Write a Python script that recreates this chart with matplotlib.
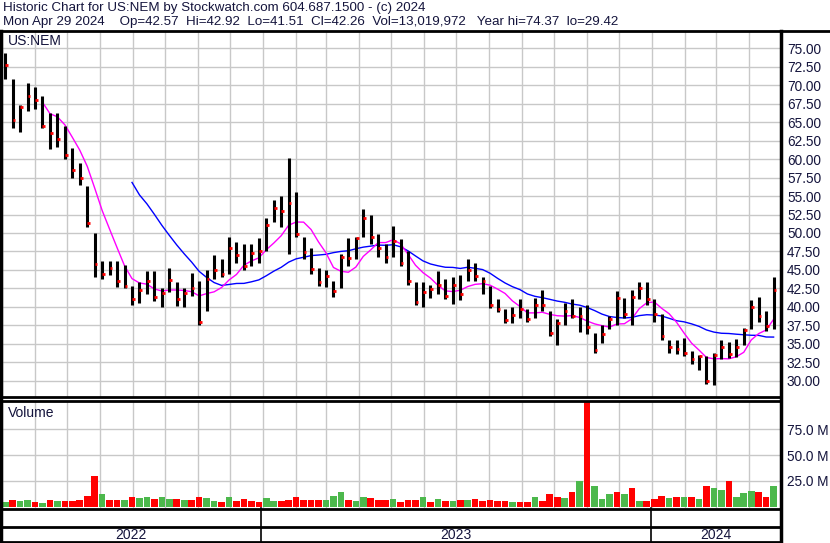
import matplotlib.pyplot as plt
import matplotlib.dates as mdates
import numpy as np
import pandas as pd
from matplotlib.lines import Line2D

plt.rcParams['font.family'] = ['Liberation Sans', 'DejaVu Sans']

W, H = 830, 543
TXT = '#14143c'
GRID = '#c8c8c8'

# weekly bars (week starting Mon May 2 2022 ... Apr 22 2024)
week_high = [74.4, 70.8, 67.3, 70.3, 69.8, 68.5, 66.2, 66.2, 64.5, 61.5,
             59.5, 56.3, 50.0, 46.2, 46.2, 46.2, 45.6, 42.8, 43.3, 44.9,
             44.9, 42.5, 45.3, 43.3, 42.5, 44.6, 43.5, 45.0, 47.0, 46.5,
             49.4, 48.8, 48.5, 48.5, 49.3, 52.0, 54.5, 55.0, 60.1, 55.5,
             49.5, 48.0, 45.3, 45.0, 43.5, 47.2, 49.3, 49.5, 53.2, 52.5,
             49.8, 48.5, 51.0, 49.2, 47.5, 43.3, 43.3, 43.0, 44.8, 43.8,
             44.0, 44.3, 46.5, 46.0, 44.0, 42.8, 41.0, 39.7, 40.0, 41.0,
             39.7, 41.2, 42.3, 39.5, 38.3, 40.5, 41.0, 40.0, 40.2, 36.5,
             37.5, 38.8, 42.2, 41.2, 42.3, 43.3, 43.3, 41.0, 39.0, 35.5,
             35.5, 35.8, 34.0, 33.5, 33.3, 33.8, 35.5, 35.3, 35.6, 37.2,
             40.9, 41.4, 39.5, 44.0]
week_low = [70.8, 64.2, 63.6, 66.5, 66.8, 64.2, 61.3, 61.7, 60.0, 57.5,
            56.5, 50.8, 44.0, 43.8, 44.3, 42.7, 42.5, 40.3, 40.5, 41.8,
            40.8, 40.0, 42.0, 40.1, 40.0, 41.5, 37.5, 39.5, 43.8, 44.0,
            44.5, 46.0, 45.0, 45.5, 46.0, 47.5, 51.5, 50.8, 47.2, 49.5,
            46.5, 44.5, 42.8, 42.7, 41.3, 42.5, 45.5, 46.5, 49.5, 48.5,
            46.8, 46.0, 46.8, 45.5, 42.9, 40.3, 40.0, 41.2, 41.8, 41.0,
            40.4, 40.9, 43.5, 43.5, 41.8, 39.8, 39.3, 37.8, 37.8, 38.5,
            37.9, 38.5, 39.5, 36.0, 34.8, 37.6, 38.5, 36.6, 36.3, 33.8,
            35.1, 37.0, 37.5, 38.5, 37.5, 41.0, 40.3, 38.0, 35.5, 33.8,
            33.6, 33.4, 32.2, 31.5, 29.6, 29.4, 33.0, 33.1, 33.2, 34.8,
            37.0, 38.0, 36.8, 37.0]
week_close = [72.7, 65.3, 67.0, 68.6, 68.0, 64.5, 63.5, 62.7, 60.5, 58.5,
              57.5, 51.4, 45.8, 44.5, 45.3, 43.5, 42.8, 41.0, 42.3, 43.5,
              41.4, 41.9, 43.6, 41.0, 41.9, 42.5, 38.0, 43.8, 45.0, 44.5,
              48.0, 47.0, 45.5, 47.3, 47.5, 51.1, 53.4, 53.0, 54.0, 49.9,
              47.4, 45.1, 43.3, 44.2, 42.1, 46.8, 46.6, 49.3, 52.0, 49.5,
              48.0, 46.8, 48.9, 46.0, 43.5, 40.6, 42.0, 42.4, 43.0, 41.5,
              42.9, 41.7, 45.0, 44.2, 43.5, 40.3, 39.7, 38.2, 38.9, 39.7,
              38.3, 40.3, 40.2, 36.5, 37.8, 39.4, 38.7, 38.8, 37.3, 34.2,
              36.3, 38.3, 41.2, 39.0, 41.3, 42.5, 41.0, 39.0, 36.0, 34.6,
              34.3, 33.8, 32.9, 33.3, 30.0, 33.5, 34.5, 33.6, 34.6, 36.9,
              40.0, 38.7, 37.4, 42.3]
# volume in millions, and whether the bar is drawn green (1) or red (0)
week_vol = [5, 7, 6, 7, 5, 4, 7, 6, 6, 6,
            7, 11, 30, 12, 7, 7, 7, 10, 9, 10,
            8, 10, 8, 8, 7, 7, 10, 9, 6, 5,
            10, 6, 8, 6, 5, 9, 6, 6, 7, 10,
            7, 7, 7, 7, 11, 14, 7, 6, 10, 9,
            7, 7, 8, 5, 7, 7, 10, 5, 8, 6,
            6, 7, 7, 8, 6, 7, 6, 6, 5, 5,
            5, 10, 6, 12, 10, 9, 14, 25, 105, 20,
            8, 12, 14, 12, 18, 6, 6, 8, 11, 9,
            10, 10, 10, 8, 20, 18, 16, 25, 10, 13,
            15, 14, 10, 20]
week_vol_up = [1, 0, 1, 1, 0, 1, 0, 1, 0, 0,
               0, 0, 0, 1, 0, 0, 1, 0, 1, 1,
               0, 1, 1, 0, 1, 0, 0, 1, 1, 0,
               1, 0, 0, 0, 0, 1, 1, 0, 0, 0,
               0, 0, 0, 1, 1, 1, 0, 1, 1, 0,
               0, 0, 1, 0, 0, 0, 1, 0, 1, 0,
               1, 0, 1, 0, 0, 0, 0, 0, 1, 0,
               0, 1, 0, 0, 0, 1, 0, 1, 0, 1,
               1, 1, 0, 1, 0, 1, 0, 0, 0, 1,
               0, 1, 0, 1, 0, 1, 1, 0, 1, 1,
               1, 0, 0, 1]

price_ticks = np.arange(30, 75.1, 2.5)
vol_ticks = [25, 50, 75]
years = ['2022', '2023', '2024']
year_mid_px = [131, 456, 716]

header1 = "Historic Chart for US:NEM by Stockwatch.com 604.687.1500 - (c) 2024"
header2 = ("Mon Apr 29 2024    Op=42.57  Hi=42.92  Lo=41.51  Cl=42.26  "
           "Vol=13,019,972   Year hi=74.37  lo=29.42")

weeks = pd.date_range('2022-05-04', periods=len(week_close), freq='7D')
d = mdates.date2num(weeks)
close = pd.Series(week_close)
ma_fast = close.rolling(6).mean()
ma_slow = close.rolling(18).mean()

x0 = mdates.date2num(pd.Timestamp('2022-05-01'))
x1 = mdates.date2num(pd.Timestamp('2024-04-30'))


def fx(px):
    return px / W


def fy(py):
    return 1 - py / H


fig = plt.figure(figsize=(W / 100, H / 100), dpi=100)
fig.patch.set_facecolor('white')

ax = fig.add_axes([fx(2), fy(397), (780 - 2) / W, (397 - 32) / H])
vax = fig.add_axes([fx(2), fy(508), (780 - 2) / W, (508 - 401) / H])

for a in (ax, vax):
    a.set_xlim(x0, x1)
    a.xaxis.set_major_locator(mdates.MonthLocator())
    a.grid(True, color=GRID, lw=1.0)
    a.set_axisbelow(True)
    for s in a.spines.values():
        s.set_visible(False)
    a.yaxis.tick_right()
    a.tick_params(axis='x', length=0, labelbottom=False)
    a.tick_params(axis='y', length=0, labelsize=9.8, labelcolor=TXT, pad=5)

# price panel
ax.set_ylim(27.8, 77.2)
ax.set_yticks(price_ticks)
ax.set_yticklabels(['%.2f' % t for t in price_ticks])
ax.plot(d, ma_slow, color='#0000ff', lw=1.0)
ax.plot(d, ma_fast, color='#ff00ff', lw=1.0)
ax.vlines(d, week_low, week_high, color='black', lw=2.2)
ax.hlines(week_close, d, d + 2.6, color='red', lw=2.0)
ax.text(fx(8), fy(41), 'US:NEM', transform=fig.transFigure, fontsize=10,
        color=TXT, va='center', ha='left')

# volume panel
vax.set_ylim(-1, 102)
vax.set_yticks(vol_ticks)
vax.set_yticklabels(['%.1f M' % v for v in vol_ticks])
vcol = ['#4cb84c' if u else '#ff0000' for u in week_vol_up]
vax.bar(d, week_vol, width=6.2, color=vcol, align='center')
vax.text(fx(8), fy(413), 'Volume', transform=fig.transFigure, fontsize=10,
         color=TXT, va='center', ha='left')

# header
fig.text(fx(3), fy(8.5), header1, fontsize=9.6, color=TXT, va='center')
fig.text(fx(3), fy(22.5), header2, fontsize=9.6, color=TXT, va='center')

# frame lines
def hline(py, xa, xb, lw=2.0):
    fig.add_artist(Line2D([fx(xa), fx(xb)], [fy(py), fy(py)], color='black',
                          lw=lw, transform=fig.transFigure))


def vline(px, ya, yb, lw=2.0):
    fig.add_artist(Line2D([fx(px), fx(px)], [fy(ya), fy(yb)], color='black',
                          lw=lw, transform=fig.transFigure))


hline(31, 0, 830)
hline(397, 0, 781)
hline(401, 0, 781)
hline(508.5, 0, 781)
hline(527, 0, 781)
hline(542, 0, 781)
vline(1, 31, 543, lw=2.5)
vline(781, 31, 543, lw=2.5)
vline(261, 508, 542, lw=1.2)
vline(651, 508, 542, lw=1.2)

for yr, xm in zip(years, year_mid_px):
    fig.text(fx(xm), fy(535), yr, fontsize=10, color=TXT, ha='center',
             va='center')

fig.savefig('out.png', dpi=100)
